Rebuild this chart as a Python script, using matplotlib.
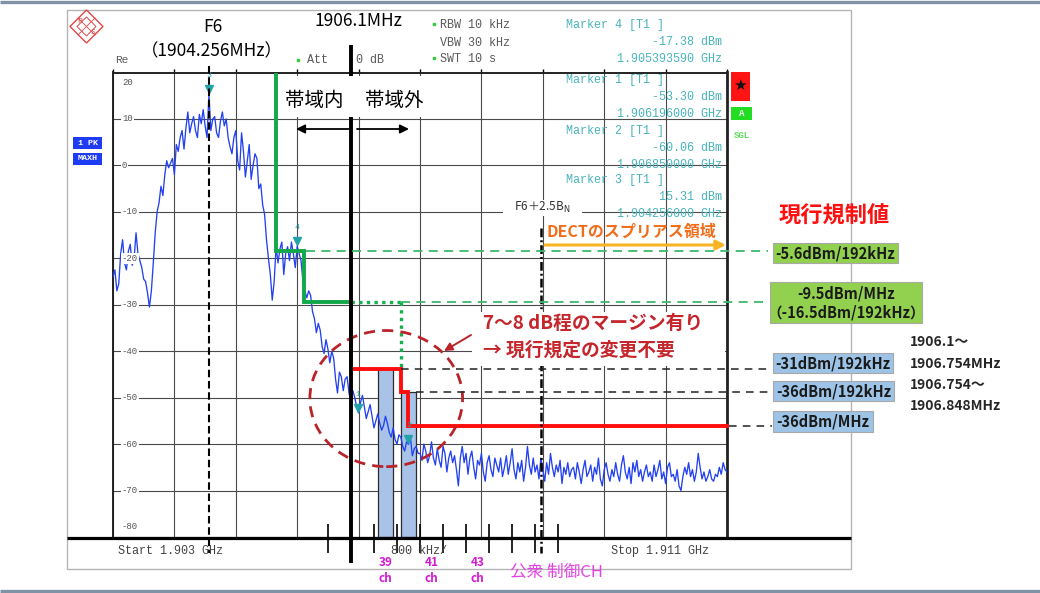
import numpy as np
import matplotlib
matplotlib.use("Agg")
import matplotlib.pyplot as plt
import matplotlib.transforms as mtransforms
from matplotlib.patches import Rectangle, Ellipse, Polygon

plt.rcParams['font.family'] = ['Noto Sans CJK JP', 'DejaVu Sans']
MONO = ['Liberation Mono', 'DejaVu Sans Mono']

# ---- analyzer sweep settings ----
FREQ_START, FREQ_STOP = 1903.0, 1911.0      # MHz
FREQ_DIV = 0.8                              # MHz / div
REF_TOP, REF_BOTTOM = 20, -80               # dBm
RBW_KHZ, VBW_KHZ, SWT_S, ATT_DB = 10, 30, 10, 0

# ---- max-hold trace (dBm), one sample every 25 kHz from start to stop ----
trace_dbm = [
    -24, -22.5, -27, -25.5, -19, -16, -21, -22.5, -18.5, -17, -21.5, -20, -14.5, -19, -20.5, -22, -24.5, -25, -27.5, -30.5,
    -27, -21, -14.5, -10, -8, -4.5, -6.5, -2, 1, -0.5, 0.5, 1.5, -2, 4.5, 3, 6, 7.5, 3.5, 8, 11.5,
    7, 9, 10.5, 7.5, 6, 11, 9, 12, 8.5, 6, 15.31, 7.5, 10, 10.5, 7, 6, 9.5, 11.5, 8.5, 10,
    6, 4, 2.5, 6, 7.5, 1, -1, 7, 3, -2.5, 1, 4.5, -3, 0, 2.5, 1.5, -5, -4, -8.5, -10.5,
    -16, -20, -23.5, -29, -25, -17.5, -21, -18, -16.5, -23.5, -19, -17.5, -20.5, -16.5, -19, -22, -17.38, -19, -20.5, -25,
    -27, -28.5, -27, -28, -31.5, -33, -36, -34, -35.5, -39, -40.5, -37.5, -39.5, -42.5, -40, -41.5, -46, -49, -44.5, -45.5,
    -48.5, -46, -45.5, -49, -51, -48.5, -50, -52, -53.3, -51, -49.5, -52, -54.5, -53, -51.5, -54, -56.5, -55, -53.5, -55.5,
    -57, -56, -54, -55.5, -57.5, -58.5, -56.5, -59, -60, -58, -58.5, -60.5, -61.5, -59.5, -60.06, -58.5, -62.5, -61, -60.5, -62,
    -62, -63.5, -60, -61.5, -64, -62.5, -59.5, -63, -64.5, -61, -63.5, -65, -60.5, -62, -66, -63, -61.5, -64, -62.5, -65.5,
    -69, -63, -60.5, -64, -62, -66.5, -63, -61.5, -65, -67.5, -63.5, -64.5, -62, -66, -68, -64, -62.5, -65.5, -67, -63,
    -64.5, -66, -63, -67, -65, -62.5, -66.5, -64, -61, -65.5, -67.5, -64, -66, -63.5, -68, -65, -60.5, -64.5, -66.5, -63,
    -66, -64.5, -67.5, -63, -65.5, -68, -64, -66.5, -62, -65, -67, -64.5, -66, -63.5, -68.5, -65, -66.5, -64, -67, -65.5,
    -65, -67.5, -64, -66, -68.5, -65.5, -63.5, -67, -66, -64.5, -68, -65, -66.5, -63, -67.5, -69, -65.5, -64, -66.5, -68,
    -65.5, -67, -64, -66.5, -68, -64.5, -62.5, -66, -67.5, -65, -68.5, -64, -66, -63.5, -67, -65.5, -68, -66, -64.5, -67,
    -66, -68, -64.5, -67, -65.5, -63.5, -67.5, -66, -68.5, -65, -64, -67, -66.5, -68, -65.5, -69, -70, -67, -65, -66.5,
    -64, -67, -65.5, -68, -66, -62, -65, -67.5, -66, -68, -67, -65.5, -67.5, -68, -66.5, -67, -65, -66.5, -64, -65.5,
    -66,
]

# ---- markers ----
marker_ids = [4, 1, 2, 3]
marker_freq_mhz = [1905.393590, 1906.196000, 1906.850000, 1904.256000]
marker_level_dbm = [-17.38, -53.30, -60.06, 15.31]

# ---- carriers and limits ----
F6_MHZ = 1904.256
BN_MHZ = 1.728
BAND_EDGE_MHZ = 1906.1

dect_limit_dbm = [-5.6, -9.5]
dect_limit_bw_khz = [192, 1000]
dect_limit_alt_dbm = -16.5            # -9.5 dBm/MHz expressed per 192 kHz
dect_edges_mhz = [1905.12, 1905.49, 1906.1]

phs_limit_dbm = [-31, -36, -36]
phs_limit_bw_khz = [192, 192, 1000]
phs_edges_mhz = [1906.1, 1906.754, 1906.848, FREQ_STOP]

CH_BW_KHZ = 192
bar_channels = [39, 40]
control_channels = [39, 41, 43]
tick_channels = list(range(37, 48))


def ch_freq(n):
    return 1895.15 + 0.3 * (n - 1)


def to_rbw(level_dbm, bw_khz):
    """Convert a limit given per bandwidth into the analyzer's RBW."""
    return level_dbm - 10 * np.log10(bw_khz / RBW_KHZ)


dect_lv = [to_rbw(v, b) for v, b in zip(dect_limit_dbm, dect_limit_bw_khz)]
phs_lv = [to_rbw(v, b) for v, b in zip(phs_limit_dbm, phs_limit_bw_khz)]

# ---------------------------------------------------------------------------
W, H = 1040, 593
fig = plt.figure(figsize=(W / 100, H / 100), dpi=100, facecolor='white')
AX_L, AX_R, AX_T, AX_B = 113, 727, 72.5, 537
ax = fig.add_axes([AX_L / W, (H - AX_B) / H, (AX_R - AX_L) / W, (AX_B - AX_T) / H])
ov = fig.add_axes([0, 0, 1, 1], zorder=3)
ov.set_xlim(0, W)
ov.set_ylim(H, 0)
ov.axis('off')

px_y_data = mtransforms.blended_transform_factory(ov.transData, ax.transData)   # x pixels, y dBm
data_x_px = mtransforms.blended_transform_factory(ax.transData, ov.transData)   # x MHz, y pixels

ax.set_xlim(FREQ_START, FREQ_STOP)
ax.set_ylim(REF_BOTTOM, REF_TOP)
ax.set_xticks(np.arange(FREQ_START, FREQ_STOP + 1e-6, FREQ_DIV))
ax.set_yticks(np.arange(REF_BOTTOM, REF_TOP + 1, 10))
ax.grid(True, color='#4a4a4a', lw=0.8)
ax.set_axisbelow(True)
ax.tick_params(labelbottom=False, labelleft=False, left=False, bottom=False,
               top=True, direction='out', length=3, width=1, color='k')
for side, lw in (('left', 1.4), ('top', 1.4), ('right', 2.0), ('bottom', 0)):
    ax.spines[side].set_linewidth(lw)
    ax.spines[side].set_color('#222222')

freqs = np.linspace(FREQ_START, FREQ_STOP, len(trace_dbm))

# channel bars (192 kHz) at the PHS limits
bar_x = [ch_freq(n) for n in bar_channels]
bar_top = [phs_lv[0], phs_lv[1]]
ax.bar(bar_x, [t - REF_BOTTOM for t in bar_top], bottom=REF_BOTTOM,
       width=CH_BW_KHZ / 1000, color='#a9c3e8', edgecolor='#2b2b2b', lw=0.9, zorder=2)

# trace
ax.plot(freqs, trace_dbm, color='#2341f0', lw=0.95, zorder=3)

# DECT in-band mask (green)
g_x = [dect_edges_mhz[0], dect_edges_mhz[0], dect_edges_mhz[1], dect_edges_mhz[1], dect_edges_mhz[2]]
g_y = [REF_TOP, dect_lv[0], dect_lv[0], dect_lv[1], dect_lv[1]]
ax.plot(g_x, g_y, color='#12a84a', lw=2.8, zorder=4, solid_joinstyle='miter')
ax.plot([dect_edges_mhz[2], phs_edges_mhz[1]], [dect_lv[1]] * 2, color='#12b050',
        lw=2.4, ls=(0, (1, 1.3)), zorder=4)
ax.plot([phs_edges_mhz[1]] * 2, [dect_lv[1], phs_lv[0]], color='#12b050',
        lw=2.4, ls=(0, (1, 1.3)), zorder=4)

# PHS mask (red)
r_x = [phs_edges_mhz[0], phs_edges_mhz[0], phs_edges_mhz[1], phs_edges_mhz[1],
       phs_edges_mhz[2], phs_edges_mhz[2], phs_edges_mhz[3]]
r_y = [dect_lv[1], phs_lv[0], phs_lv[0], phs_lv[1], phs_lv[1], phs_lv[2], phs_lv[2]]
ax.plot(r_x, r_y, color='#ff0d0d', lw=2.8, zorder=4, solid_joinstyle='miter', clip_on=False)

# markers on the trace
mk_tr = mtransforms.offset_copy(ax.transData, fig=fig, x=0, y=5, units='dots')
ax.plot(marker_freq_mhz, marker_level_dbm, 'v', color='#23a3a8', ms=5.5, transform=mk_tr, zorder=6)
for mid, f, v in zip(marker_ids, marker_freq_mhz, marker_level_dbm):
    ax.annotate(str(mid), (f, v), xytext=(0, 11), textcoords='offset points',
                ha='center', va='bottom', fontsize=6, color='#23a3a8', family=MONO, zorder=6)

# PHS-limit ellipse
ax.add_patch(Ellipse((1906.56, -50.2), 1.99, 29.3, fill=False, edgecolor='#b8242a',
                     lw=2.0, ls=(0, (4, 2.6)), zorder=5, clip_on=False))


def xpx(f):
    return ax.transData.transform((f, 0))[0]


# ---- extension lines to the limit boxes ----
BOX_X = 772
ov.plot([xpx(dect_edges_mhz[1]) + 2, 768], [dect_lv[0]] * 2, transform=px_y_data,
        color='#3cb86a', lw=1.3, ls=(0, (5, 3.5)), zorder=2)
ov.plot([xpx(phs_edges_mhz[1]), 766], [dect_lv[1]] * 2, transform=px_y_data,
        color='#3cb86a', lw=1.3, ls=(0, (5, 3.5)), zorder=2)
ov.plot([xpx(phs_edges_mhz[1]), BOX_X], [phs_lv[0]] * 2, transform=px_y_data,
        color='#222222', lw=1.1, ls=(0, (5, 4)), zorder=2)
ov.plot([xpx(bar_x[1] + CH_BW_KHZ / 2000), BOX_X], [phs_lv[1]] * 2, transform=px_y_data,
        color='#222222', lw=1.1, ls=(0, (5, 4)), zorder=2)
ov.plot([AX_R + 2, BOX_X], [phs_lv[2]] * 2, transform=px_y_data,
        color='#222222', lw=1.1, ls=(0, (5, 4)), zorder=2)

# ---- frequency reference lines ----
ov.vlines(BAND_EDGE_MHZ, 45, 563, transform=data_x_px, color='k', lw=2.8, zorder=1)
ov.vlines(F6_MHZ, 66, 553, transform=data_x_px, color='k', lw=1.5, ls=(0, (3.6, 1.8)), zorder=1)
ov.vlines(F6_MHZ + 2.5 * BN_MHZ, 228, 553, transform=data_x_px, color='k', lw=1.8,
          ls=(0, (3.5, 1.2, 0.8, 1.2)), zorder=1)
ov.vlines([ch_freq(n) - 0.15 for n in tick_channels], 524, 553, transform=data_x_px,
          color='k', lw=1.2, zorder=1)

# white patches behind annotations
ov.add_patch(Rectangle((282, 76), 150, 41, facecolor='white', edgecolor='none', zorder=2))
ov.add_patch(Rectangle((503, 200), 79, 16, facecolor='white', edgecolor='none', zorder=2))
ov.add_patch(Rectangle((472, 312), 253, 54, facecolor='white', edgecolor='none', zorder=2))

# screen frame, base line and slide rules
ov.add_patch(Rectangle((67, 10), 784, 559, fill=False, edgecolor='#b4b4b4', lw=1.0, zorder=0))
ov.hlines(538, 67, 851, color='k', lw=2.3, zorder=1)
ov.hlines(1.5, 0, W, color='#7f92a6', lw=2.4, zorder=0)
ov.hlines(591, 0, W, color='#7f92a6', lw=2.4, zorder=0)

# y-axis numbers inside the grid
for v in range(REF_TOP, REF_BOTTOM - 1, -10):
    dy = -7.5 if v == REF_TOP else (7.5 if v == REF_BOTTOM else 0)
    ov.annotate(f"{v}", (122, v), xycoords=px_y_data, xytext=(0, dy), textcoords='offset points',
                ha='left', va='center', fontsize=6.5, family=MONO, color='#555555', zorder=3,
                bbox=dict(facecolor='white', edgecolor='none', pad=0.6))

# ---- texts above the grid ----
ov.text(213, 27, "F6", ha='center', va='center', fontsize=12.5, zorder=4)
ov.text(212, 51, f"（{F6_MHZ:.3f}MHz）", ha='center', va='center', fontsize=12.5, zorder=4)
ov.text(358, 21, f"{BAND_EDGE_MHZ:.1f}MHz", ha='center', va='center', fontsize=12.5, zorder=4)

ov.text(314, 100, "帯域内", ha='center', va='center', fontsize=14, zorder=4)
ov.text(394, 100, "帯域外", ha='center', va='center', fontsize=14, zorder=4)
arrow_kw = dict(arrowstyle='-|>', color='k', lw=1.3, mutation_scale=13, shrinkA=0, shrinkB=0)
ov.annotate('', xy=(296, 129), xytext=(350, 129), arrowprops=arrow_kw, zorder=4)
ov.annotate('', xy=(409, 129), xytext=(357, 129), arrowprops=arrow_kw, zorder=4)

ov.text(542, 207, "F6＋2.5B$_{\\rm N}$", ha='center', va='center', fontsize=8.5, color='#333333', zorder=4)
ov.text(547, 232, "DECTのスプリアス領域", ha='left', va='center', fontsize=11.5,
        fontweight='bold', color='#f26d1a', zorder=4)
ov.annotate('', xy=(726, 245), xytext=(545, 245),
            arrowprops=dict(arrowstyle='-|>', color='#f8b425', lw=2.2, mutation_scale=14,
                            shrinkA=0, shrinkB=0), zorder=4)

ov.text(483, 323, "7～8 dB程のマージン有り", ha='left', va='center', fontsize=13.5,
        fontweight='bold', color='#c4262c', zorder=4)
ov.text(483, 350, "→ 現行規定の変更不要", ha='left', va='center', fontsize=13.5,
        fontweight='bold', color='#c4262c', zorder=4)
ov.annotate('', xy=(444, 351), xytext=(471, 335),
            arrowprops=dict(arrowstyle='-|>', color='#b8242a', lw=1.4, mutation_scale=12,
                            shrinkA=0, shrinkB=0), zorder=4)

# ---- limit value boxes ----
ov.text(834, 215, "現行規制値", ha='center', va='center', fontsize=16, fontweight='bold',
        color='#ff1010', zorder=4)


def label_box(x0, y0, x1, y1, text, fc):
    ov.add_patch(Rectangle((x0, y0), x1 - x0, y1 - y0, facecolor=fc, edgecolor='#a8a8a8',
                           lw=0.8, zorder=5))
    ov.text((x0 + x1) / 2, (y0 + y1) / 2 + 0.5, text, ha='center', va='center', fontsize=10.5,
            fontweight='bold', color='#1a1a1a', zorder=6, linespacing=1.3)


GREEN, BLUE = '#92d050', '#9dc3e6'
label_box(772.7, 242.7, 898.3, 263.3, f"{dect_limit_dbm[0]:g}dBm/{dect_limit_bw_khz[0]}kHz", GREEN)
label_box(770, 281.7, 921.7, 323.3,
          f"{dect_limit_dbm[1]:g}dBm/MHz\n（{dect_limit_alt_dbm:g}dBm/{CH_BW_KHZ}kHz）", GREEN)
label_box(772.7, 352.7, 893.3, 372.7, f"{phs_limit_dbm[0]:g}dBm/{phs_limit_bw_khz[0]}kHz", BLUE)
label_box(772.7, 381, 894.3, 401, f"{phs_limit_dbm[1]:g}dBm/{phs_limit_bw_khz[1]}kHz", BLUE)
label_box(772.7, 410.7, 873.3, 431.7, f"{phs_limit_dbm[2]:g}dBm/MHz", BLUE)

range_txt = [f"{phs_edges_mhz[0]}～", f"{phs_edges_mhz[1]}MHz",
             f"{phs_edges_mhz[1]}～", f"{phs_edges_mhz[2]}MHz"]
for t, y in zip(range_txt, [342.5, 363.5, 385, 405.5]):
    ov.text(910, y, t, ha='left', va='center', fontsize=10, fontweight='bold', color='#262626', zorder=4)

# ---- instrument read-outs ----
GREY, TEAL = '#5a5a5a', '#48b4bc'
ov.text(115, 60, "Re", ha='left', va='center', fontsize=8, family=MONO, color=GREY, zorder=4)
ov.text(307, 60, "Att", ha='left', va='center', fontsize=8.5, family=MONO, color=GREY, zorder=4)
ov.text(356, 60, f"{ATT_DB} dB", ha='left', va='center', fontsize=8.5, family=MONO, color=GREY, zorder=4)
ov.text(440, 25, f"RBW {RBW_KHZ} kHz", ha='left', va='center', fontsize=8.5, family=MONO, color=GREY, zorder=4)
ov.text(440, 43, f"VBW {VBW_KHZ} kHz", ha='left', va='center', fontsize=8.5, family=MONO, color=GREY, zorder=4)
ov.text(440, 59, f"SWT {SWT_S} s", ha='left', va='center', fontsize=8.5, family=MONO, color=GREY, zorder=4)
ov.plot([298, 434, 434], [60, 24, 58], 's', color='#2fcf3a', ms=2, zorder=4)

for (mid, f, v), y0 in zip(zip(marker_ids, marker_freq_mhz, marker_level_dbm), [25, 80.5, 131, 180.5]):
    ov.text(566, y0, f"Marker {mid} [T1 ]", ha='left', va='center', fontsize=8.5, family=MONO,
            color=TEAL, zorder=4)
    ov.text(722, y0 + 17, f"{v:.2f} dBm", ha='right', va='center', fontsize=8.5, family=MONO,
            color=TEAL, zorder=4)
    ov.text(722, y0 + 33.5, f"{f / 1000:.9f} GHz", ha='right', va='center', fontsize=8.5,
            family=MONO, color=TEAL, zorder=4)

# side badges
for y0, txt in ((137.3, "1 PK"), (152.7, "MAXH")):
    ov.add_patch(Rectangle((73.3, y0), 28.4, 11.8, facecolor='#1f3cf5', edgecolor='none', zorder=4))
    ov.text(87.5, y0 + 6, txt, ha='center', va='center', fontsize=6, family=MONO,
            color='white', fontweight='bold', zorder=5)
ov.add_patch(Rectangle((730.7, 71.7), 19.3, 29, facecolor='#ff1414', edgecolor='none', zorder=4))
ov.text(740.3, 85, "★", ha='center', va='center', fontsize=11, color='#111111',
        family=['DejaVu Sans'], zorder=5)
ov.add_patch(Rectangle((731, 106.7), 21, 13.3, facecolor='#22dd22', edgecolor='none', zorder=4))
ov.text(741.5, 113.5, "A", ha='center', va='center', fontsize=6.5, family=MONO, color='white',
        fontweight='bold', zorder=5)
ov.text(742, 135, "SGL", ha='center', va='center', fontsize=6.5, family=MONO, color='#5fdc5f',
        fontweight='bold', zorder=4)

# logo
ov.add_patch(Polygon([(86.5, 10), (103, 26.5), (86.5, 43), (70, 26.5)], closed=True, fill=False,
                     edgecolor='#e04848', lw=1.0, zorder=4))
ov.add_patch(Polygon([(86.5, 17), (96, 26.5), (86.5, 36), (77, 26.5)], closed=True, fill=False,
                     edgecolor='#e04848', lw=0.7, zorder=4))
ov.plot([78, 95], [18, 35], color='#e04848', lw=0.6, zorder=4)
ov.plot([78, 95], [35, 18], color='#e04848', lw=0.6, zorder=4)
ov.text(80, 21, "R", ha='center', va='center', fontsize=5.5, color='#e04848', zorder=4)
ov.text(93, 32, "S", ha='center', va='center', fontsize=5.5, color='#e04848', zorder=4)

# ---- bottom scale text and channel labels ----
ov.text(118, 551, f"Start {FREQ_START / 1000:.3f} GHz", ha='left', va='center', fontsize=8.5,
        family=MONO, color='#444444', zorder=4)
ov.text(391, 551, f"{FREQ_DIV * 1000:.0f} kHz/", ha='left', va='center', fontsize=8.5,
        family=MONO, color='#444444', zorder=4)
ov.text(611, 551, f"Stop {FREQ_STOP / 1000:.3f} GHz", ha='left', va='center', fontsize=8.5,
        family=MONO, color='#444444', zorder=4)

for n in control_channels:
    xf = ch_freq(n)
    ov.text(xf, 563, f"{n}", transform=data_x_px, ha='center', va='center', fontsize=8.5,
            fontweight='bold', color='#d21ad2', zorder=4)
    ov.text(xf, 579, "ch", transform=data_x_px, ha='center', va='center', fontsize=8.5,
            fontweight='bold', color='#d21ad2', zorder=4)
ov.text(556, 572, "公衆 制御CH", ha='center', va='center', fontsize=12, color='#e442e4', zorder=4)

fig.savefig("out.png", dpi=100, facecolor='white')
